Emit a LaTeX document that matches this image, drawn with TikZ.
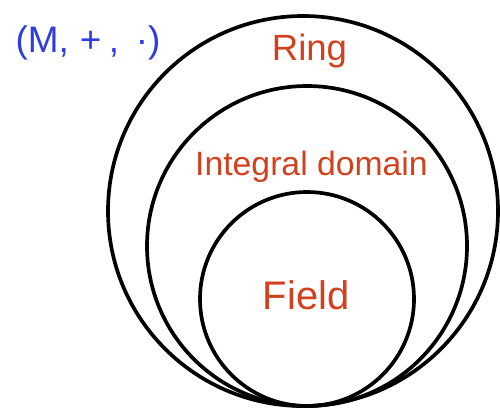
\documentclass[tikz,border=0pt]{standalone}
\usepackage{fontspec}
\setmainfont{Liberation Sans}
\definecolor{setblue}{RGB}{45,60,225}
\definecolor{setred}{RGB}{210,65,30}
\begin{document}
\begin{tikzpicture}
\useasboundingbox (0,0) rectangle (10,8.16);
\draw[line width=2.1pt] (6.06,3.94) circle (3.9cm);
\draw[line width=2.1pt] (6.14,3.24) circle (3.2cm);
\draw[line width=2.1pt] (6.14,2.18) circle (2.14cm);
\node[anchor=base, text=setred, font=\fontsize{20.8}{23}\selectfont] (ring) at (6.19,6.96) {Ring};
\node[anchor=base, text=setred, font=\fontsize{19.2}{21}\selectfont] (domain) at (6.23,4.66) {Integral domain};
\node[anchor=base, text=setred, font=\fontsize{22.7}{25}\selectfont] (field) at (6.12,1.98) {Field};
\node[anchor=base, text=setblue, font=\fontsize{21}{23}\selectfont] (struct) at (1.76,7.12) {(M,\hspace{0.3em}+\hspace{0.2em},\hspace{0.45em}·)};
\end{tikzpicture}
\end{document}
